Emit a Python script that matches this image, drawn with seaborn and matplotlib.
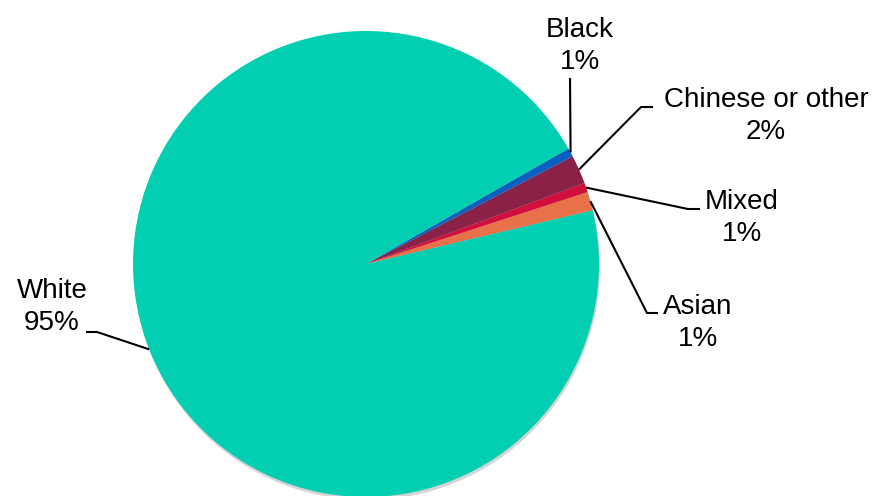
import numpy as np
import matplotlib
matplotlib.use("Agg")
import matplotlib.pyplot as plt
import seaborn as sns
from matplotlib.patches import Circle

# ---- data ----
categories = ["Asian", "Mixed", "Chinese or other", "Black", "White"]
shares = [1.3, 0.65, 2.0, 0.6, 95.45]
colors_hex = ["#E8714A", "#D20E3C", "#8A2248", "#0B5FC0", "#02CFB1"]

# ---- layout (pixel coords, y downwards) ----
W, H = 880, 496
CENTER_PX = (366, 264)
RADIUS_PX = 233
label_pos = {           # text centre
    "Asian": (698, 323),
    "Mixed": (742, 218),
    "Chinese or other": (766, 116),
    "Black": (580, 46),
    "White": (52, 307),
}
elbows = {              # elbow point, end of horizontal stub
    "Asian": [(647, 313), (658, 313)],
    "Mixed": [(688, 209), (700, 209)],
    "Chinese or other": [(641, 107), (653, 107)],
    "Black": [(570, 78)],
    "White": [(97, 332), (86, 332)],
}

sns.set_theme(style="white")
plt.rcParams["font.family"] = ["Liberation Sans", "DejaVu Sans"]
palette = sns.color_palette(colors_hex)

fig = plt.figure(figsize=(W / 100, H / 100), dpi=100)
ax = fig.add_axes([0, 0, 1, 1])


def to_data(p):
    return (p[0], H - p[1])


cx, cy = to_data(CENTER_PX)
# soft shadow
ax.add_patch(Circle((cx + 1, cy - 3), RADIUS_PX, facecolor="#d4d4d4",
                    edgecolor="none", zorder=0))

wedges, _ = ax.pie(shares, colors=palette, startangle=13.3, counterclock=True,
                   center=(cx, cy), radius=RADIUS_PX,
                   wedgeprops=dict(linewidth=0))

for w, cat, v in zip(wedges, categories, shares):
    mid = np.deg2rad((w.theta1 + w.theta2) / 2)
    start = (cx + RADIUS_PX * np.cos(mid), cy + RADIUS_PX * np.sin(mid))
    pts = [start] + [to_data(p) for p in elbows[cat]]
    xs, ys = zip(*pts)
    ax.plot(xs, ys, color="black", lw=1.5, solid_capstyle="butt", zorder=5)
    tx, ty = to_data(label_pos[cat])
    ax.text(tx, ty, f"{cat}\n{v:.0f}%", ha="center", va="center",
            fontsize=20, linespacing=1.33, color="black", zorder=6)

ax.set_xlim(0, W)
ax.set_ylim(0, H)
ax.set_aspect("equal")
ax.axis("off")
fig.savefig("out.png", dpi=100)
